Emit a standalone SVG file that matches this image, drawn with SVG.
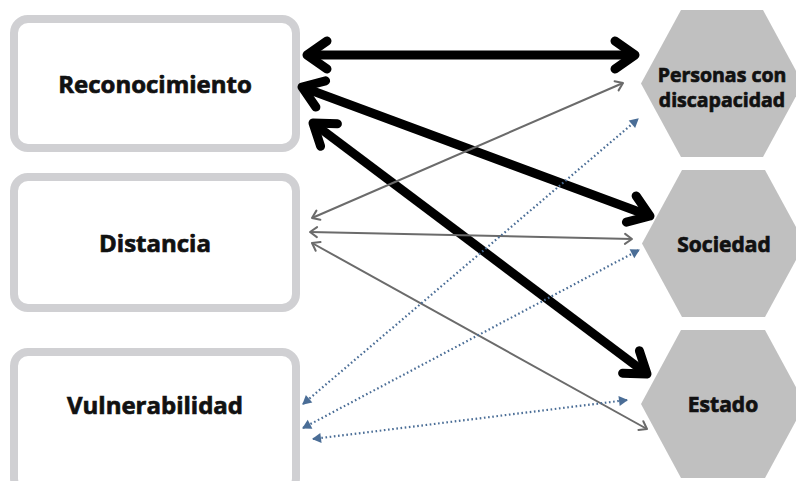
<svg xmlns="http://www.w3.org/2000/svg" width="796" height="481" viewBox="0 0 796 481">
<defs>
<style>
.box{fill:#fff;stroke:#d0d0d3;stroke-width:8}
.hex{fill:#c0c0c0}
.lbl{font-family:"Open Sans","Noto Sans","Liberation Sans",sans-serif;font-weight:700;fill:#111;stroke:#111;stroke-width:0.7;text-anchor:middle}
.big{font-size:24px}
.sm{font-size:19.5px}
.md{font-size:21px}
.thick{stroke:#000;stroke-width:9;fill:none;marker-start:url(#chevB);marker-end:url(#chevB)}
.thin{stroke:#6b6b6b;stroke-width:2;fill:none;marker-start:url(#chevG);marker-end:url(#chevG)}
.dot{stroke:#4a6d96;stroke-width:2.2;stroke-dasharray:1.6 2.6;fill:none;marker-start:url(#triB);marker-end:url(#triB)}
</style>
<marker id="chevB" markerUnits="userSpaceOnUse" orient="auto-start-reverse" overflow="visible" markerWidth="1" markerHeight="1" refX="0" refY="0">
<path d="M-20,-14 L0,0 L-20,14" fill="none" stroke="#000" stroke-width="9" stroke-linecap="round" stroke-linejoin="round"/>
</marker>
<marker id="chevG" markerUnits="userSpaceOnUse" orient="auto-start-reverse" overflow="visible" markerWidth="1" markerHeight="1" refX="0" refY="0">
<path d="M-7,-5 L0,0 L-7,5" fill="none" stroke="#6b6b6b" stroke-width="2" stroke-linecap="round" stroke-linejoin="round"/>
</marker>
<marker id="triB" markerUnits="userSpaceOnUse" orient="auto-start-reverse" overflow="visible" markerWidth="1" markerHeight="1" refX="0" refY="0">
<path d="M-8,-5 L1,0 L-8,5 Z" fill="#4a6d96"/>
</marker>
</defs>
<rect width="796" height="481" fill="#fff"/>
<g id="reconocimiento">
<rect class="box" x="14" y="19" width="282" height="129" rx="14"/>
<text class="lbl big" x="155" y="93">Reconocimiento</text>
</g>
<g id="distancia">
<rect class="box" x="14" y="177" width="282" height="131" rx="14"/>
<text class="lbl big" x="155" y="252">Distancia</text>
</g>
<g id="vulnerabilidad">
<rect class="box" x="14" y="352" width="282" height="140" rx="14"/>
<text class="lbl big" x="155" y="414">Vulnerabilidad</text>
</g>
<g id="personas">
<polygon class="hex" points="641,83.5 681,10 763,10 803,83.5 763,157 681,157"/>
<text class="lbl sm" x="722" y="82">Personas con</text>
<text class="lbl sm" x="722" y="107">discapacidad</text>
</g>
<g id="sociedad">
<polygon class="hex" points="642,243.5 682,170 765,170 805,243.5 765,317 682,317"/>
<text class="lbl md" x="724" y="252">Sociedad</text>
</g>
<g id="estado">
<polygon class="hex" points="641,404 681,330 765,330 805,404 765,478 681,478"/>
<text class="lbl md" x="723" y="412">Estado</text>
</g>
<g id="connectors">
<line class="thick" x1="307" y1="55" x2="635" y2="55"/>
<line class="thick" x1="302" y1="87" x2="650" y2="216"/>
<line class="thick" x1="313" y1="123" x2="647" y2="374"/>
<line class="thin" x1="312" y1="218" x2="623" y2="83"/>
<line class="thin" x1="310" y1="232" x2="632" y2="239"/>
<line class="thin" x1="312" y1="243" x2="647" y2="429"/>
<line class="dot" x1="303" y1="404" x2="638" y2="119"/>
<line class="dot" x1="303" y1="428" x2="639" y2="250"/>
<line class="dot" x1="313" y1="439" x2="627" y2="400"/>
</g>
</svg>
